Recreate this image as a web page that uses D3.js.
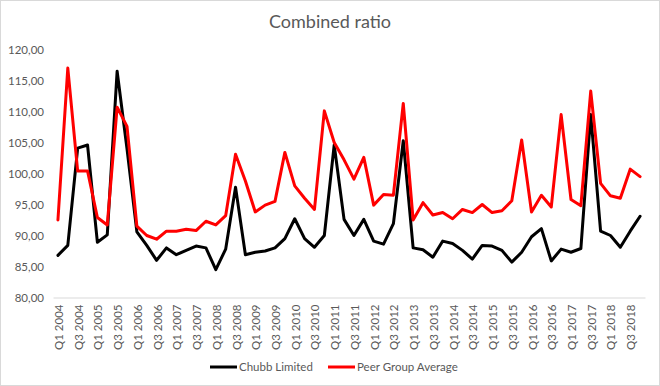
<!DOCTYPE html>
<html>
<head>
<meta charset="utf-8">
<script src="https://cdn.jsdelivr.net/npm/d3@7"></script>
<style>
    body { margin: 0; background: #fff; }
    svg { display: block; font-family: Lato, "Open Sans", sans-serif; }
</style>
</head>
<body>
<svg id="chart" width="660" height="386"></svg>
<script>
const quarters = [
    "Q1 2004", "Q2 2004", "Q3 2004", "Q4 2004", "Q1 2005", "Q2 2005", "Q3 2005", "Q4 2005",
    "Q1 2006", "Q2 2006", "Q3 2006", "Q4 2006", "Q1 2007", "Q2 2007", "Q3 2007", "Q4 2007",
    "Q1 2008", "Q2 2008", "Q3 2008", "Q4 2008", "Q1 2009", "Q2 2009", "Q3 2009", "Q4 2009",
    "Q1 2010", "Q2 2010", "Q3 2010", "Q4 2010", "Q1 2011", "Q2 2011", "Q3 2011", "Q4 2011",
    "Q1 2012", "Q2 2012", "Q3 2012", "Q4 2012", "Q1 2013", "Q2 2013", "Q3 2013", "Q4 2013",
    "Q1 2014", "Q2 2014", "Q3 2014", "Q4 2014", "Q1 2015", "Q2 2015", "Q3 2015", "Q4 2015",
    "Q1 2016", "Q2 2016", "Q3 2016", "Q4 2016", "Q1 2017", "Q2 2017", "Q3 2017", "Q4 2017",
    "Q1 2018", "Q2 2018", "Q3 2018", "Q4 2018"
];

const chubb = [
    86.8, 88.4, 104.1, 104.6, 88.9, 90.1, 116.5, 104.0,
    90.6, 88.4, 86.0, 88.0, 86.9, 87.6, 88.3, 88.0,
    84.5, 87.8, 97.8, 86.9, 87.3, 87.5, 88.0, 89.5,
    92.7, 89.5, 88.1, 90.0, 104.6, 92.6, 90.0, 92.6,
    89.1, 88.6, 91.9, 105.3, 88.0, 87.7, 86.5, 89.1,
    88.7, 87.6, 86.2, 88.4, 88.3, 87.6, 85.7, 87.3,
    89.8, 91.1, 85.9, 87.8, 87.3, 87.9, 109.5, 90.7,
    90.0, 88.1, 90.7, 93.1
];

const peers = [
    92.5, 117.0, 100.4, 100.4, 92.9, 91.7, 110.7, 107.6,
    91.5, 90.0, 89.4, 90.7, 90.7, 91.0, 90.8, 92.3,
    91.7, 93.2, 103.1, 98.8, 93.8, 94.9, 95.5, 103.4,
    98.0, 96.0, 94.2, 110.1, 105.0, 102.2, 99.1, 102.6,
    94.9, 96.6, 96.5, 111.3, 92.5, 95.3, 93.3, 93.7,
    92.7, 94.2, 93.7, 95.0, 93.7, 94.0, 95.6, 105.4,
    93.8, 96.5, 94.6, 109.5, 95.8, 94.8, 113.3, 98.4,
    96.4, 96.0, 100.7, 99.5
];

const yTicks = [80, 85, 90, 95, 100, 105, 110, 115, 120];

const seriesList = [
    { name: "Chubb Limited", values: chubb, color: "#000000" },
    { name: "Peer Group Average", values: peers, color: "#ff0000" }
];

const svg = d3.select("#chart");
const textColor = "#595959";

// chart area border
svg.append("rect")
    .attr("x", 0.5).attr("y", 0.5)
    .attr("width", 659).attr("height", 385)
    .attr("fill", "#fff")
    .attr("stroke", "#d9d9d9");

svg.append("text")
    .attr("x", 330)
    .attr("y", 28)
    .attr("text-anchor", "middle")
    .attr("font-size", 18)
    .attr("fill", textColor)
    .text("Combined ratio");

const x = d3.scaleBand().domain(quarters).range([53, 645]).padding(0);
const y = d3.scaleLinear().domain([80, 120]).range([297.5, 49.5]);

// y labels
svg.append("g")
    .attr("transform", "translate(44,0)")
    .call(d3.axisLeft(y).tickValues(yTicks).tickSize(0).tickPadding(0)
        .tickFormat(d => d3.format(".2f")(d).replace(".", ",")))
    .call(g => g.select(".domain").remove())
    .selectAll("text")
    .attr("font-size", 11.5)
    .attr("font-family", "Lato, sans-serif")
    .attr("fill", textColor);

// x axis line and labels
const xAxis = svg.append("g")
    .attr("transform", "translate(0,297.5)")
    .call(d3.axisBottom(x)
        .tickValues(quarters.filter((d, i) => i % 2 === 0))
        .tickSize(0).tickPadding(0));

xAxis.select(".domain").attr("stroke", "#d9d9d9");
xAxis.selectAll("text")
    .attr("font-size", 11.5)
    .attr("font-family", "Lato, sans-serif")
    .attr("fill", textColor)
    .attr("text-anchor", "end")
    .attr("dy", "0.35em")
    .attr("transform", "translate(1,7) rotate(-90)")
    .attr("x", 0)
    .attr("y", 0);

const line = d3.line()
    .x((d, i) => x(quarters[i]) + x.bandwidth() / 2)
    .y(d => y(d));

svg.selectAll(".series")
    .data(seriesList)
    .enter()
    .append("path")
    .attr("class", "series")
    .attr("d", d => line(d.values))
    .attr("fill", "none")
    .attr("stroke", d => d.color)
    .attr("stroke-width", 3)
    .attr("stroke-linejoin", "round")
    .attr("stroke-linecap", "round");

// legend
const legendX = [210, 328];
const legend = svg.selectAll(".legend")
    .data(seriesList)
    .enter()
    .append("g")
    .attr("class", "legend")
    .attr("transform", (d, i) => `translate(${legendX[i]},367)`);

legend.append("line")
    .attr("x1", 0).attr("x2", 27)
    .attr("stroke", d => d.color)
    .attr("stroke-width", 3);

legend.append("text")
    .attr("x", 29)
    .attr("dy", "0.35em")
    .attr("font-size", 11.5)
    .attr("fill", textColor)
    .text(d => d.name);
</script>
</body>
</html>
